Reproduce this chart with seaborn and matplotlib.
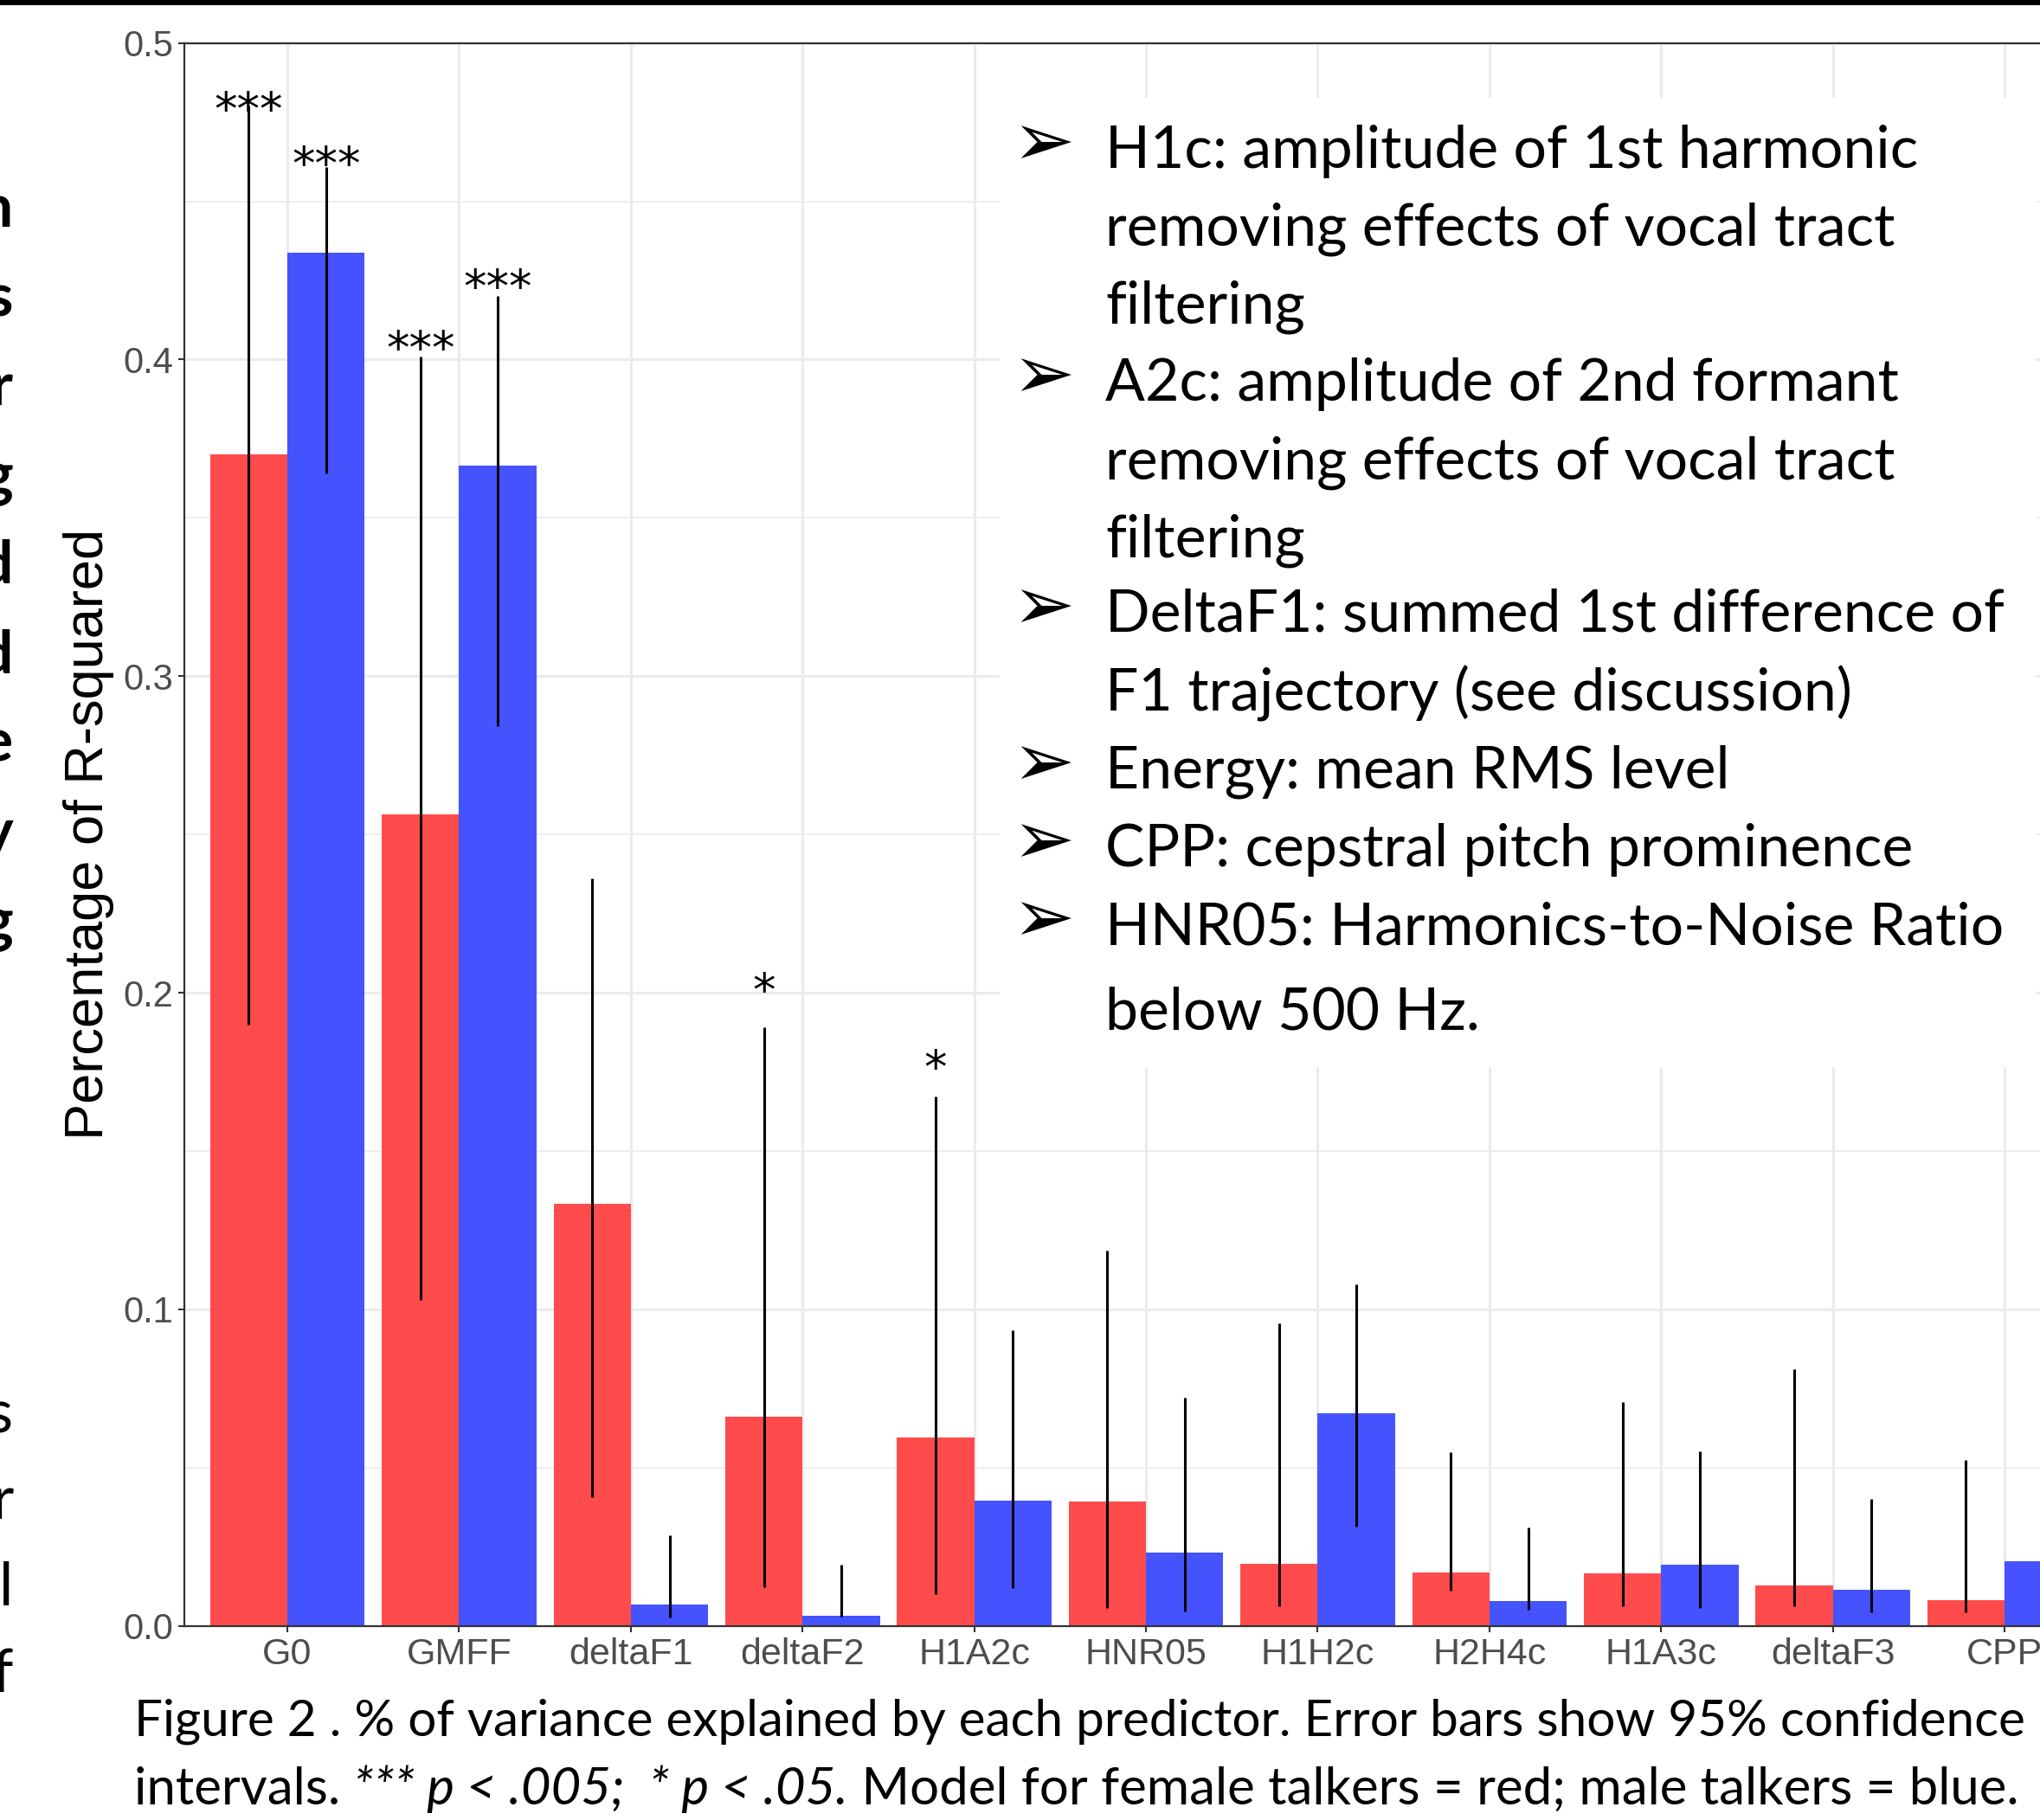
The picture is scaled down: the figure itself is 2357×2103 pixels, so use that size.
import numpy as np
import pandas as pd
import matplotlib
matplotlib.use("Agg")
import matplotlib.pyplot as plt
from matplotlib.patches import Rectangle
from matplotlib.ticker import MultipleLocator
import seaborn as sns

# ---------------- data ----------------
categories = ["G0", "GMFF", "deltaF1", "deltaF2", "H1A2c", "HNR05",
              "H1H2c", "H2H4c", "H1A3c", "deltaF3", "CPP"]
female = [0.370, 0.2564, 0.1333, 0.0660, 0.0596, 0.0393, 0.0197, 0.0170, 0.0165, 0.0128, 0.0082]
female_lo = [0.190, 0.1031, 0.0407, 0.0121, 0.0100, 0.0056, 0.0063, 0.0110, 0.0061, 0.0061, 0.0042]
female_hi = [0.4803, 0.4010, 0.2362, 0.1890, 0.1672, 0.1186, 0.0957, 0.0548, 0.0708, 0.0810, 0.0523]
male = [0.4338, 0.3665, 0.0068, 0.0033, 0.0395, 0.0232, 0.0672, 0.0079, 0.0194, 0.0114, 0.0205]
male_lo = [0.364, 0.2843, 0.0026, 0.0028, 0.0119, 0.0046, 0.0314, 0.0052, 0.0056, 0.0043, 0.0050]
male_hi = [0.4609, 0.4202, 0.0287, 0.0194, 0.0933, 0.0721, 0.1080, 0.0311, 0.0552, 0.0402, 0.0450]
female_sig = ["***", "***", "", "*", "*", "", "", "", "", "", ""]
male_sig = ["***", "***", "", "", "", "", "", "", "", "", ""]
female_sig_y = [0.480, 0.4045, None, 0.2016, 0.1773, None, None, None, None, None, None]
male_sig_y = [0.4626, 0.4239, None, None, None, None, None, None, None, None, None]
yticks = [0.0, 0.1, 0.2, 0.3, 0.4, 0.5]
ytick_labels = ["0.0", "0.1", "0.2", "0.3", "0.4", "0.5"]
ylabel = "Percentage of R-squared"
sexes = ["female", "male"]

bullets = [
    (True, "H1c: amplitude of 1st harmonic"),
    (False, "removing effects of vocal tract"),
    (False, "filtering"),
    (True, "A2c: amplitude of 2nd formant"),
    (False, "removing effects of vocal tract"),
    (False, "filtering"),
    (True, "DeltaF1: summed 1st difference of"),
    (False, "F1 trajectory (see discussion)"),
    (True, "Energy: mean RMS level"),
    (True, "CPP: cepstral pitch prominence"),
    (True, "HNR05: Harmonics-to-Noise Ratio"),
    (False, "below 500 Hz."),
]
caption1 = "Figure 2 . % of variance explained by each predictor. Error bars show 95% confidence"
caption2 = [("intervals. ", "normal"), ("*** p < .005;  * p < .05.", "italic"),
            (" Model for female talkers = red; male talkers = blue.", "normal")]
frag_upper = ["n", "s", "r", "g", "d", "d", "e", "y", "g"]
frag_lower = ["s", "r", "l", "f"]

RED = "#FF4B4B"
BLUE = "#4553FF"

# ---------------- figure ----------------
W, H = 2357, 2103
DPI = 100
fig = plt.figure(figsize=(W / DPI, H / DPI), dpi=DPI)
fig.patch.set_facecolor("white")

def fx(x):
    return x / W

def fy(y):
    return 1 - y / H

y0px, y5px = 1878.7, 49.6
left_px = 213
ax = fig.add_axes([fx(left_px), fy(y0px), 1 - fx(left_px), (y0px - y5px) / H])

df = pd.DataFrame({
    "predictor": categories * 2,
    "sex": ["female"] * len(categories) + ["male"] * len(categories),
    "r2": female + male,
})
sns.barplot(data=df, x="predictor", y="r2", hue="sex", order=categories,
            hue_order=sexes, palette={"female": RED, "male": BLUE},
            width=0.9, errorbar=None, saturation=1, legend=False,
            linewidth=0, ax=ax, zorder=2)

xpos = np.arange(len(categories))
off = 0.9 / 4
ax.vlines(xpos - off, female_lo, female_hi, color="black", lw=2.2, zorder=3)
ax.vlines(xpos + off, male_lo, male_hi, color="black", lw=2.2, zorder=3)

for i in range(len(categories)):
    for lab, yv, dx in ((female_sig[i], female_sig_y[i], -off), (male_sig[i], male_sig_y[i], off)):
        if lab:
            ax.annotate(lab, (xpos[i] + dx, yv), xytext=(0, -15), textcoords="offset points",
                        ha="center", va="baseline", fontsize=38,
                        family="DejaVu Sans", color="black", zorder=4)

ax.set_xlim(-0.6, 10.206)
ax.set_ylim(0, 0.5)
ax.set_yticks(yticks)
ax.set_yticklabels(ytick_labels)
ax.yaxis.set_minor_locator(MultipleLocator(0.05))
ax.set_xlabel("")
ax.set_ylabel("")
ax.set_axisbelow(True)
ax.grid(which="major", axis="both", color="#EBEBEB", lw=2.2, zorder=0)
ax.grid(which="minor", axis="y", color="#EBEBEB", lw=1.2, zorder=0)
for s in ("left", "bottom", "top"):
    ax.spines[s].set_color("#333333")
    ax.spines[s].set_linewidth(1.6)
ax.spines["right"].set_visible(False)
ax.tick_params(axis="both", which="major", length=5, width=1.5, color="#333333",
               pad=4.5, labelcolor="#4D4D4D")
ax.tick_params(axis="both", which="minor", length=0)
for t in ax.get_yticklabels():
    t.set_fontsize(30)
    t.set_family("Liberation Sans")
for t in ax.get_xticklabels():
    t.set_fontsize(31)
    t.set_family("Liberation Sans")

# white text box covering the grid
ax.add_patch(Rectangle((fx(1155), fy(1233)), (2352 - 1155) / W, (1233 - 113) / H,
                       transform=fig.transFigure, facecolor="white", edgecolor="none", zorder=1))

# top black slide line
fig.add_artist(Rectangle((0, fy(6)), 1, 6 / H, transform=fig.transFigure,
                         facecolor="black", edgecolor="none"))

fig.text(fx(102), fy(964), ylabel, rotation=90, ha="center", va="center",
         fontsize=45.5, family="Liberation Sans", color="black")

renderer = fig.canvas.get_renderer()

def text_width(s, **kw):
    t = fig.text(0, 0, s, **kw)
    w = t.get_window_extent(renderer=renderer).width
    t.remove()
    return w

# bullet list
BFONT = "Lato"
bsize = 50 * 1038 / text_width("DeltaF1: summed 1st difference of", fontsize=50, family=BFONT)
baselines = [194, 284, 374, 463, 553, 643, 730, 821, 911, 1001, 1091, 1190]
for (has_b, line), yb in zip(bullets, baselines):
    fig.text(fx(1277), fy(yb), line, ha="left", va="baseline", fontsize=bsize,
             family=BFONT, color="black")
    if has_b:
        fig.text(fx(1205), fy(yb - 26), "\u27a2", ha="center", va="center", fontsize=62,
                 family="DejaVu Sans", color="black")

# caption
csize = 50 * 2185 / text_width(caption1, fontsize=50, family=BFONT)
fig.text(fx(155), fy(2006), caption1, ha="left", va="baseline", fontsize=csize,
         family=BFONT, color="black")
w2 = sum(text_width(p, fontsize=50, family=BFONT, style=s) for p, s in caption2)
csize2 = 50 * 2179 / w2
xcur = 155
for piece, style in caption2:
    fig.text(fx(xcur), fy(2085), piece, ha="left", va="baseline", fontsize=csize2,
             family=BFONT, style=style, color="black")
    xcur += text_width(piece, fontsize=csize2, family=BFONT, style=style)

# cut-off text fragments from the neighbouring slide column
for k, ch in enumerate(frag_upper):
    fig.text(fx(15), fy(262 + 103 * k), ch, ha="right", va="baseline", fontsize=50,
             family=BFONT, weight="bold", color="black")
for k, ch in enumerate(frag_lower):
    fig.text(fx(15), fy(1655 + 100 * k), ch, ha="right", va="baseline", fontsize=50,
             family=BFONT, color="black")

fig.savefig("out.png", dpi=DPI, facecolor="white")
